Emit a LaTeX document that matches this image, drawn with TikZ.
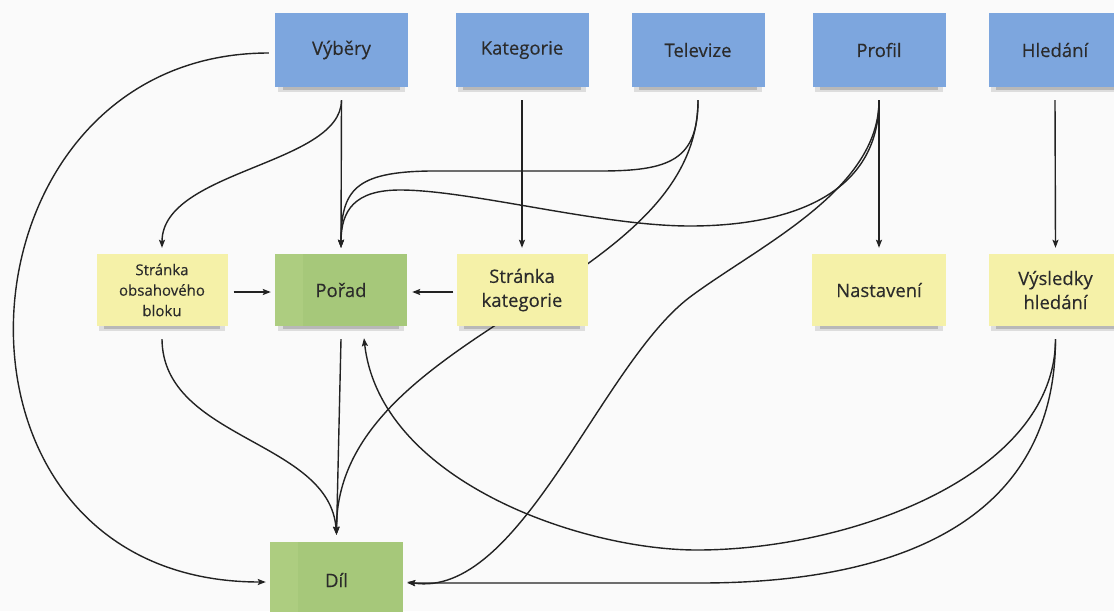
\documentclass[tikz,border=0pt]{standalone}
\usepackage{fontspec}
\setmainfont{Open Sans}[FakeBold=0.3]
\usetikzlibrary{arrows.meta}
\definecolor{bgc}{HTML}{FAFAFA}
\definecolor{bluebox}{HTML}{7DA6DE}
\definecolor{yellowbox}{HTML}{F5F1A8}
\definecolor{greenbox}{HTML}{A6C87A}
\definecolor{greenlight}{HTML}{ADCD80}
\definecolor{textc}{HTML}{2B2B2B}
\definecolor{linec}{HTML}{222222}
\definecolor{shadowdark}{HTML}{B8B8B8}
\definecolor{shadowlight}{HTML}{DDDDDD}
\pgfdeclarelayer{bglayer}
\pgfdeclarelayer{lines}
\pgfsetlayers{bglayer,lines,main}
\tikzset{
  box/.style={rectangle, inner sep=0pt, align=center, text=textc,
    font=\fontsize{18.5}{24}\selectfont},
  topbox/.style={box, fill=bluebox, minimum width=133pt, minimum height=74pt},
  midbox/.style={box, fill=yellowbox, minimum width=131pt, minimum height=72pt},
  greenboxst/.style={box, fill=greenbox, minimum width=132pt,
    path picture={\fill[greenlight] (path picture bounding box.north west) rectangle ([xshift=28pt]path picture bounding box.south west);}},
  conn/.style={line width=1.4pt, draw=linec},
  arr/.style={conn, -{Stealth[length=8pt,width=6pt,inset=1.5pt]}}
}
\begin{document}
\begin{tikzpicture}[x=1pt,y=-1pt]
\useasboundingbox (0,0) rectangle (1114,611);
\begin{pgfonlayer}{bglayer}
\fill[bgc] (0,0) rectangle (1114,611);
\end{pgfonlayer}
% top row
\node[topbox] (vyb) at (341.5,50) {Výběry};
\node[topbox] (kat) at (522,50) {Kategorie};
\node[topbox] (tv) at (698,50) {Televize};
\node[topbox] (prof) at (879,50) {Profil};
\node[topbox] (hled) at (1055,50) {Hledání};
% middle row
\node[midbox, font=\fontsize{15}{20.5}\selectfont] (sob) at (162,290) {Stránka\\obsahového\\bloku};
\node[greenboxst, minimum height=72pt] (porad) at (341,290) {Pořad};
\node[midbox] (skat) at (522,290) {Stránka\\kategorie};
\node[midbox, minimum width=134pt] (nast) at (879,290) {Nastavení};
\node[midbox, minimum width=134pt] (vys) at (1055.5,290) {Výsledky\\hledání};
% bottom
\node[greenboxst, minimum height=76pt, minimum width=133pt] (dil) at (336.5,580) {Díl};

\begin{pgfonlayer}{bglayer}
\foreach \n in {vyb,kat,tv,prof,hled,sob,porad,skat,nast,vys} {
  \fill[shadowlight] ([xshift=3pt]\n.south west) rectangle ([xshift=-3pt,yshift=-5pt]\n.south east);
  \fill[shadowdark] ([xshift=8pt]\n.south west) rectangle ([xshift=-8pt,yshift=-3pt]\n.south east);
}
\end{pgfonlayer}

\begin{pgfonlayer}{lines}
% Vyber
\draw[arr] ([yshift=-13pt]vyb.south) -- ([yshift=6pt]porad.north);
\draw[arr] ([yshift=-13pt]vyb.south) .. controls (341,165) and (162,170) .. ([yshift=6pt]sob.north);
\draw[arr] ([xshift=-6pt,yshift=-3pt]vyb.west) .. controls (-55,53) and (-85,582) .. ([xshift=-4pt,yshift=-2pt]dil.west);
% Kategorie
\draw[arr] ([yshift=-13pt]kat.south) -- ([yshift=6pt]skat.north);
% Televize
\draw[arr] ([yshift=-13pt]tv.south) .. controls (698,160) and (670,171) .. (600,171) -- (430,171) .. controls (355,172) and (341,190) .. ([yshift=6pt]porad.north);
\draw[arr] ([yshift=-13pt]tv.south) .. controls (698,290) and (336,330) .. ([yshift=7pt]dil.north);
% Profil
\draw[arr] ([yshift=-13pt]prof.south) -- ([yshift=6pt]nast.north);
\draw[arr] ([yshift=-13pt]prof.south) .. controls (879,200) and (780,226) .. (690,226) .. controls (600,226) and (470,190) .. (400,190) .. controls (355,190) and (341,210) .. ([yshift=6pt]porad.north);
\draw[arr] ([yshift=-13pt]prof.south) .. controls (879,190) and (760,245) .. (690,297) .. controls (600,365) and (520,600) .. ([xshift=4pt,yshift=-2pt]dil.east);
% Hledani
\draw[arr] ([yshift=-13pt]hled.south) -- ([yshift=6pt]vys.north);
\draw[arr] ([yshift=-13pt]vys.south) .. controls (1055,475) and (850,550) .. (697,550) .. controls (580,550) and (380,480) .. ([xshift=23pt,yshift=-12pt]porad.south);
\draw[arr] ([yshift=-13pt]vys.south) .. controls (1055,520) and (900,583) .. (700,583) -- ([xshift=4pt,yshift=-3pt]dil.east);
% middle row
\draw[arr] ([xshift=6pt,yshift=-2pt]sob.east) -- ([xshift=-4pt,yshift=-2pt]porad.west);
\draw[arr] ([xshift=-3pt,yshift=-2pt]skat.west) -- ([xshift=5pt,yshift=-2pt]porad.east);
\draw[arr] ([yshift=-13pt]sob.south) .. controls (163,440) and (330,440) .. ([yshift=7pt]dil.north);
\draw[arr] ([yshift=-13pt]porad.south) -- ([yshift=7pt]dil.north);
\end{pgfonlayer}
\end{tikzpicture}
\end{document}
